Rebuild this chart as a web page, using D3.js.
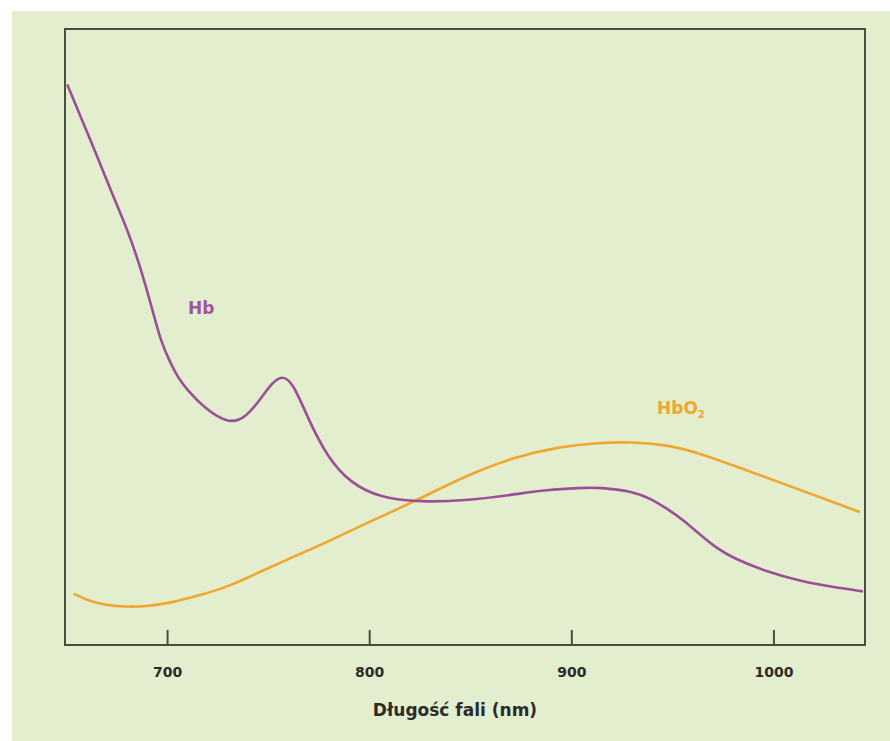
<!DOCTYPE html>
<html>
<head>
<meta charset="utf-8">
<script src="https://cdn.jsdelivr.net/npm/d3@7"></script>
<style>
  body { margin: 0; background: #fff; }
  svg { display: block; }
</style>
</head>
<body>
<svg width="890" height="741"></svg>
<script>
// wavelengths (nm) and relative absorption
var hbNm  = [650.6, 663.6, 673.5, 680.4, 686.8, 693.2, 696.7, 701.6, 705.6, 710, 718, 729.7, 738, 746, 752, 757, 762.4, 769.4, 779.2, 790.6, 805.4, 825, 847, 871, 888, 904, 914, 930.7, 938.9, 947.2, 955.4, 963.7, 971.9, 980.1, 996.6, 1013.1, 1029.5, 1044.3]
var hbVal = [91.0, 80.8, 72.7, 67.4, 61.4, 53.9, 49.5, 45.8, 43.3, 41.4, 38.6, 36.0, 36.6, 39.8, 42.6, 43.8, 42.5, 37.0, 30.5, 26.3, 23.9, 23.2, 23.4, 24.4, 25.2, 25.5, 25.6, 24.9, 23.8, 22.2, 20.3, 17.9, 15.7, 14.1, 11.9, 10.4, 9.4, 8.7]

var hbo2Nm  = [653.8, 663.6, 676.9, 688.3, 701.6, 716.5, 729.8, 746.1, 762.4, 779.2, 802, 821.8, 846.5, 871.2, 896, 912.8, 929.1, 947.4, 963.7, 1003, 1042.7]
var hbo2Val = [8.3, 6.8, 6.2, 6.2, 6.8, 8.1, 9.4, 11.9, 14.3, 16.7, 20.3, 23.2, 27.3, 30.5, 32.3, 32.8, 33.0, 32.5, 31.2, 26.4, 21.6]

var xTicks = [700, 800, 900, 1000]

var svg = d3.select("svg")

// zielone tlo
svg.append("rect")
  .attr("x", 12).attr("y", 11)
  .attr("width", 878).attr("height", 730)
  .style("fill", "#e3eecf")

var pLeft = 65, pRight = 865, pTop = 29, pBottom = 645

var x = d3.scaleLinear().domain([649.5, 1045.3]).range([pLeft, pRight])
var y = d3.scaleLinear().domain([0, 100]).range([pBottom, pTop])

var line = d3.line()
  .x(function(d) { return x(d[0]) })
  .y(function(d) { return y(d[1]) })
  .curve(d3.curveBasis)

svg.append("path")
  .datum(d3.zip(hbo2Nm, hbo2Val))
  .attr("d", line)
  .style("fill", "none")
  .style("stroke", "#f0a72e")
  .style("stroke-width", 2.6)

svg.append("path")
  .datum(d3.zip(hbNm, hbVal))
  .attr("d", line)
  .style("fill", "none")
  .style("stroke", "#9c4f98")
  .style("stroke-width", 2.6)

// as met ticks naar binnen
var axis = d3.axisBottom(x)
  .tickValues(xTicks)
  .tickFormat(d3.format("d"))
  .tickSizeInner(-15)
  .tickSizeOuter(0)
  .tickPadding(22)

var g = svg.append("g")
  .attr("transform", "translate(0," + pBottom + ")")
  .call(axis)

g.select(".domain").remove()
g.selectAll("line").style("stroke", "#45503f").style("stroke-width", 2)
g.selectAll("text")
  .style("font-family", "DejaVu Sans, Verdana, sans-serif")
  .style("font-weight", "bold")
  .style("font-size", "14px")
  .style("fill", "#2b2b2b")

// kader
svg.append("rect")
  .attr("x", pLeft).attr("y", pTop)
  .attr("width", pRight - pLeft).attr("height", pBottom - pTop)
  .style("fill", "none")
  .style("stroke", "#45503f")
  .style("stroke-width", 2)

svg.append("text")
  .attr("x", 455).attr("y", 716)
  .attr("text-anchor", "middle")
  .style("font-family", "DejaVu Sans, Verdana, sans-serif")
  .style("font-weight", "bold")
  .style("font-size", "17px")
  .style("fill", "#2b2b2b")
  .text("Długość fali (nm)")

svg.append("text")
  .attr("x", 188).attr("y", 314)
  .style("font-family", "DejaVu Sans, Verdana, sans-serif")
  .style("font-weight", "bold")
  .style("font-size", "17px")
  .style("fill", "#a0559c")
  .text("Hb")

var lab = svg.append("text")
  .attr("x", 657).attr("y", 414)
  .style("font-family", "DejaVu Sans, Verdana, sans-serif")
  .style("font-weight", "bold")
  .style("font-size", "17px")
  .style("fill", "#f0a72e")
lab.append("tspan").text("HbO")
lab.append("tspan").attr("dy", 4).style("font-size", "10px").text("2")
</script>
</body>
</html>
